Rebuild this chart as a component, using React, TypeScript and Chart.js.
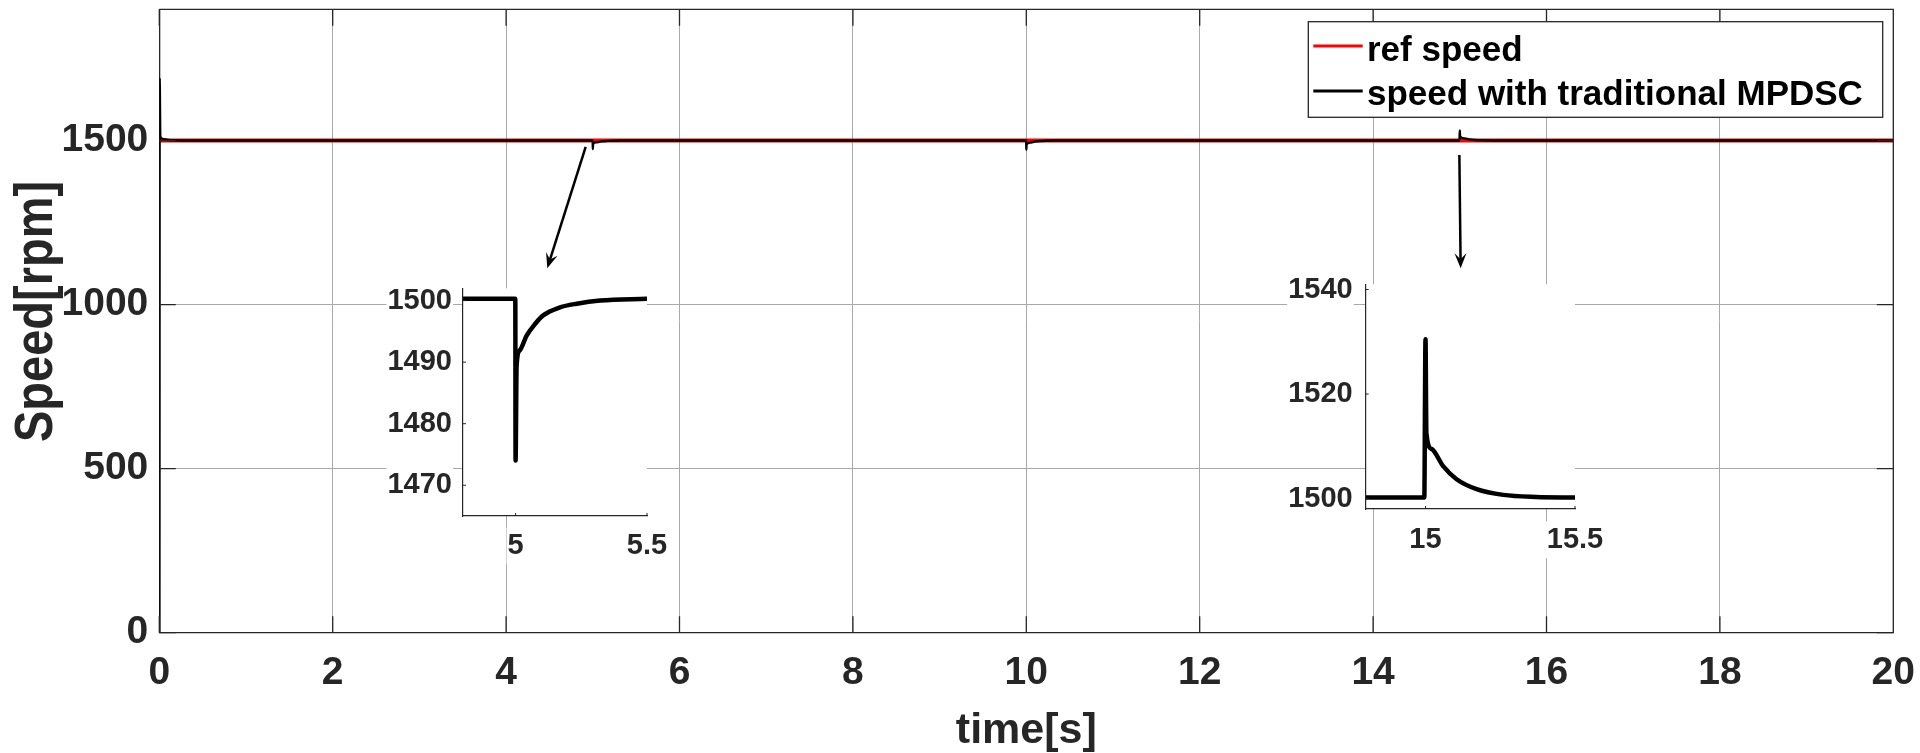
import React, { useEffect, useRef } from "react";
import { Chart, registerables } from "chart.js";

Chart.register(...registerables);

const FONT = '"Liberation Sans", Arial, Helvetica, sans-serif';
const INK = "#262626";
const GRID = "#a9a9a9";

// ---------------- data ----------------
const LEGEND_LABELS = ["ref speed", "speed with traditional MPDSC"];
const X_TITLE = "time[s]";
const Y_TITLE = "Speed[rpm]";

const REF_TIME = [0, 20];
const REF_SPEED = [1500, 1500];

const MAIN_TIME = [
  0, 0.004, 0.012, 0.04, 0.1, 0.3,
  4.999, 5.0, 5.003, 5.04, 5.1, 5.17, 5.32, 5.5,
  9.999, 10.0, 10.003, 10.04, 10.1, 10.17, 10.32, 10.5,
  14.996, 15.0, 15.003, 15.059, 15.104, 15.171, 15.26, 15.4, 20,
];
const MAIN_SPEED = [
  0, 1690, 1512, 1505, 1501.5, 1500.3,
  1500.3, 1474, 1489.5, 1494.3, 1497.6, 1498.9, 1500.0, 1500.3,
  1500.3, 1472, 1488, 1493.5, 1497.2, 1498.8, 1500.0, 1500.3,
  1500.3, 1530.5, 1512.5, 1506.2, 1503.7, 1501.8, 1500.7, 1500.3, 1500.3,
];
const MAIN_Y_TICKS = [0, 500, 1000, 1500];

const INSET1_TIME = [4.8, 4.999, 5.0, 5.004, 5.016, 5.042, 5.074, 5.105, 5.169, 5.233, 5.322, 5.5];
const INSET1_SPEED = [1500.3, 1500.3, 1474, 1489.5, 1491.9, 1494.3, 1496.2, 1497.6, 1498.9, 1499.5, 1500.0, 1500.3];
const INSET1_X_TICKS = [5, 5.5];
const INSET1_Y_TICKS = [1470, 1480, 1490, 1500];

const INSET2_TIME = [14.8, 14.996, 15.0, 15.003, 15.02, 15.059, 15.104, 15.171, 15.26, 15.37, 15.5];
const INSET2_SPEED = [1500.2, 1500.2, 1530.5, 1512.5, 1509.5, 1506.2, 1503.7, 1501.8, 1500.7, 1500.3, 1500.2];
const INSET2_X_TICKS = [15, 15.5];
const INSET2_Y_TICKS = [1500, 1520, 1540];

// arrows in data coordinates of the main axes: [from, to]
const ARROW_1 = [[4.918, 1481], [4.475, 1111]];
const ARROW_2 = [[14.995, 1456], [15.01, 1111]];

// --------------------------------------
const toXY = (xs: number[], ys: number[]) => xs.map((x, i) => ({ x, y: ys[i] }));

const makeFramePlugin = (len: number, box: boolean, lw: number) => ({
  id: "frameTicks",
  afterDatasetsDraw(chart: any) {
    const { ctx, chartArea: a, scales } = chart;
    const xs = scales.x;
    const ys = scales.y;
    ctx.save();
    ctx.strokeStyle = INK;
    ctx.lineWidth = lw;
    ctx.beginPath();
    xs.ticks.forEach((t: any) => {
      const px = xs.getPixelForValue(t.value);
      ctx.moveTo(px, a.bottom);
      ctx.lineTo(px, a.bottom - len);
      if (box) {
        ctx.moveTo(px, a.top);
        ctx.lineTo(px, a.top + len);
      }
    });
    ys.ticks.forEach((t: any) => {
      const py = ys.getPixelForValue(t.value);
      ctx.moveTo(a.left, py);
      ctx.lineTo(a.left + len, py);
      if (box) {
        ctx.moveTo(a.right, py);
        ctx.lineTo(a.right - len, py);
      }
    });
    if (box) {
      ctx.moveTo(a.left, a.top);
      ctx.lineTo(a.right, a.top);
      ctx.lineTo(a.right, a.bottom);
    }
    ctx.stroke();
    ctx.restore();
  },
});

const legendPlugin = {
  id: "boxLegend",
  afterDraw(chart: any) {
    const ctx = chart.ctx;
    const L = 1308.3, T = 21.7, R = 1882.7, B = 117.3;
    const rows = [
      { lineY: 46, baseY: 60.7 },
      { lineY: 91, baseY: 105 },
    ];
    ctx.save();
    ctx.fillStyle = "#ffffff";
    ctx.fillRect(L, T, R - L, B - T);
    ctx.strokeStyle = INK;
    ctx.lineWidth = 1.3;
    ctx.strokeRect(L, T, R - L, B - T);
    chart.data.datasets.forEach((ds: any, i: number) => {
      ctx.strokeStyle = ds.borderColor;
      ctx.lineWidth = 3;
      ctx.beginPath();
      ctx.moveTo(1313.3, rows[i].lineY);
      ctx.lineTo(1362.7, rows[i].lineY);
      ctx.stroke();
      ctx.fillStyle = "#000000";
      ctx.font = `bold 35px ${FONT}`;
      ctx.textAlign = "left";
      ctx.textBaseline = "alphabetic";
      ctx.fillText(ds.label, 1367, rows[i].baseY);
    });
    ctx.restore();
  },
};

const arrowsPlugin = {
  id: "arrows",
  afterDraw(chart: any) {
    const { ctx, scales } = chart;
    const xs = scales.x;
    const ys = scales.y;
    ctx.save();
    ctx.strokeStyle = "#000000";
    ctx.fillStyle = "#000000";
    ctx.lineWidth = 2.5;
    [ARROW_1, ARROW_2].forEach(([[t0, v0], [t1, v1]]) => {
      const x0 = xs.getPixelForValue(t0);
      const y0 = ys.getPixelForValue(v0);
      const x1 = xs.getPixelForValue(t1);
      const y1 = ys.getPixelForValue(v1);
      const len = Math.hypot(x1 - x0, y1 - y0);
      const dx = (x1 - x0) / len;
      const dy = (y1 - y0) / len;
      const px = -dy;
      const py = dx;
      const HL = 15;
      const HW = 6;
      ctx.beginPath();
      ctx.moveTo(x0, y0);
      ctx.lineTo(x1 - dx * HL * 0.6, y1 - dy * HL * 0.6);
      ctx.stroke();
      ctx.beginPath();
      ctx.moveTo(x1, y1);
      ctx.lineTo(x1 - dx * HL + px * HW, y1 - dy * HL + py * HW);
      ctx.lineTo(x1 - dx * HL * 0.6, y1 - dy * HL * 0.6);
      ctx.lineTo(x1 - dx * HL - px * HW, y1 - dy * HL - py * HW);
      ctx.closePath();
      ctx.fill();
    });
    ctx.restore();
  },
};

const yTitlePlugin = {
  id: "yTitle",
  afterDraw(chart: any) {
    const ctx = chart.ctx;
    ctx.save();
    ctx.translate(51.5, 311.5);
    ctx.rotate(-Math.PI / 2);
    ctx.scale(1, 1.15);
    ctx.font = `bold 47px ${FONT}`;
    ctx.fillStyle = INK;
    ctx.textAlign = "center";
    ctx.textBaseline = "alphabetic";
    ctx.fillText(Y_TITLE, 0, 0);
    ctx.restore();
  },
};

const whiteAreaPlugin = {
  id: "whiteArea",
  beforeDraw(chart: any) {
    const { ctx, chartArea: a } = chart;
    ctx.save();
    ctx.fillStyle = "#ffffff";
    ctx.fillRect(a.left, a.top, a.right - a.left, a.bottom - a.top);
    ctx.restore();
  },
};

const tickFont = (size: number) => ({ family: FONT, size, weight: "bold" as const });

const fixSize = (dim: "width" | "height", value: number) => (s: any) => {
  s[dim] = value;
  s.paddingTop = 0;
  s.paddingBottom = 0;
  s.paddingLeft = 0;
  s.paddingRight = 0;
};

function mainConfig(): any {
  return {
    type: "line",
    data: {
      datasets: [
        {
          label: LEGEND_LABELS[0],
          data: toXY(REF_TIME, REF_SPEED),
          borderColor: "#ff0000",
          borderWidth: 4,
          pointRadius: 0,
          fill: false,
          tension: 0,
          order: 2,
        },
        {
          label: LEGEND_LABELS[1],
          data: toXY(MAIN_TIME, MAIN_SPEED),
          borderColor: "#000000",
          borderWidth: 2.4,
          pointRadius: 0,
          fill: false,
          cubicInterpolationMode: "monotone",
          order: 1,
        },
      ],
    },
    options: {
      responsive: false,
      maintainAspectRatio: false,
      animation: false,
      events: [],
      layout: { padding: { top: 9.3, right: 26.7, left: 0, bottom: 0 } },
      plugins: { legend: { display: false }, tooltip: { enabled: false } },
      scales: {
        x: {
          type: "linear",
          min: 0,
          max: 20,
          ticks: {
            stepSize: 2,
            padding: 17,
            color: INK,
            font: tickFont(39),
            autoSkip: false,
            maxRotation: 0,
            callback: (v: any) => String(v),
          },
          grid: { color: GRID, lineWidth: 1, drawTicks: false },
          border: { display: true, color: INK, width: 1.3 },
          title: {
            display: true,
            text: X_TITLE,
            color: INK,
            font: { family: FONT, size: 43, weight: "bold", lineHeight: 1 },
            padding: { top: 0, bottom: 0 },
          },
          afterFit: fixSize("height", 120.3),
        },
        y: {
          type: "linear",
          min: 0,
          max: 1900,
          afterBuildTicks: (s: any) => {
            s.ticks = MAIN_Y_TICKS.map((value) => ({ value }));
          },
          ticks: {
            padding: 11,
            color: INK,
            font: tickFont(39),
            callback: (v: any) => String(v),
          },
          grid: { color: GRID, lineWidth: 1, drawTicks: false },
          border: { display: true, color: INK, width: 1.3 },
          afterFit: fixSize("width", 159.3),
        },
      },
    },
    plugins: [makeFramePlugin(16.5, true, 1.3), yTitlePlugin, arrowsPlugin, legendPlugin],
  };
}

function insetConfig(
  times: number[],
  speeds: number[],
  xr: [number, number],
  xTicks: number[],
  yr: [number, number],
  yTicks: number[],
  yWidth: number,
  xHeight: number,
  padTop: number,
  padRight: number,
  yPad: number,
  xPad: number
): any {
  const tickOpts = {
    color: INK,
    font: tickFont(29),
    showLabelBackdrop: true,
    backdropColor: "#ffffff",
    backdropPadding: 1,
    callback: (v: any) => String(v),
  };
  return {
    type: "line",
    data: {
      datasets: [
        {
          label: LEGEND_LABELS[1],
          data: toXY(times, speeds),
          borderColor: "#000000",
          borderWidth: 4.5,
          pointRadius: 0,
          fill: false,
          cubicInterpolationMode: "monotone",
        },
      ],
    },
    options: {
      responsive: false,
      maintainAspectRatio: false,
      animation: false,
      events: [],
      layout: { padding: { top: padTop, right: padRight, left: 0, bottom: 0 } },
      plugins: { legend: { display: false }, tooltip: { enabled: false } },
      scales: {
        x: {
          type: "linear",
          min: xr[0],
          max: xr[1],
          afterBuildTicks: (s: any) => {
            s.ticks = xTicks.map((value) => ({ value }));
          },
          ticks: { ...tickOpts, padding: xPad, autoSkip: false, maxRotation: 0 },
          grid: { display: false, drawTicks: false },
          border: { display: true, color: INK, width: 1.2 },
          afterFit: fixSize("height", xHeight),
        },
        y: {
          type: "linear",
          min: yr[0],
          max: yr[1],
          afterBuildTicks: (s: any) => {
            s.ticks = yTicks.map((value) => ({ value }));
          },
          ticks: { ...tickOpts, padding: yPad },
          grid: { display: false, drawTicks: false },
          border: { display: true, color: INK, width: 1.2 },
          afterFit: fixSize("width", yWidth),
        },
      },
    },
    plugins: [whiteAreaPlugin, makeFramePlugin(3, false, 1)],
  };
}

export default function App() {
  const mainRef = useRef<HTMLCanvasElement>(null);
  const in1Ref = useRef<HTMLCanvasElement>(null);
  const in2Ref = useRef<HTMLCanvasElement>(null);

  useEffect(() => {
    const charts: Chart[] = [];
    if (mainRef.current) charts.push(new Chart(mainRef.current, mainConfig()));
    if (in1Ref.current)
      charts.push(
        new Chart(
          in1Ref.current,
          insetConfig(INSET1_TIME, INSET1_SPEED, [4.8, 5.5], INSET1_X_TICKS, [1465, 1502], INSET1_Y_TICKS, 88, 52, 20.3, 28, 11, 12.6)
        )
      );
    if (in2Ref.current)
      charts.push(
        new Chart(
          in2Ref.current,
          insetConfig(INSET2_TIME, INSET2_SPEED, [14.8, 15.5], INSET2_X_TICKS, [1498, 1541], INSET2_Y_TICKS, 85.7, 53, 22.3, 35, 13, 13.3)
        )
      );
    return () => charts.forEach((c) => c.destroy());
  }, []);

  return (
    <div
      style={{
        position: "fixed",
        left: 0,
        top: 0,
        width: 1920,
        height: 753,
        background: "#ffffff",
        overflow: "hidden",
      }}
    >
      <canvas
        ref={mainRef}
        width={1920}
        height={753}
        style={{ position: "absolute", left: 0, top: 0, width: 1920, height: 753 }}
      />
      <canvas
        ref={in1Ref}
        width={300}
        height={300}
        style={{ position: "absolute", left: 375, top: 268, width: 300, height: 300 }}
      />
      <canvas
        ref={in2Ref}
        width={330}
        height={300}
        style={{ position: "absolute", left: 1280, top: 262, width: 330, height: 300 }}
      />
    </div>
  );
}
